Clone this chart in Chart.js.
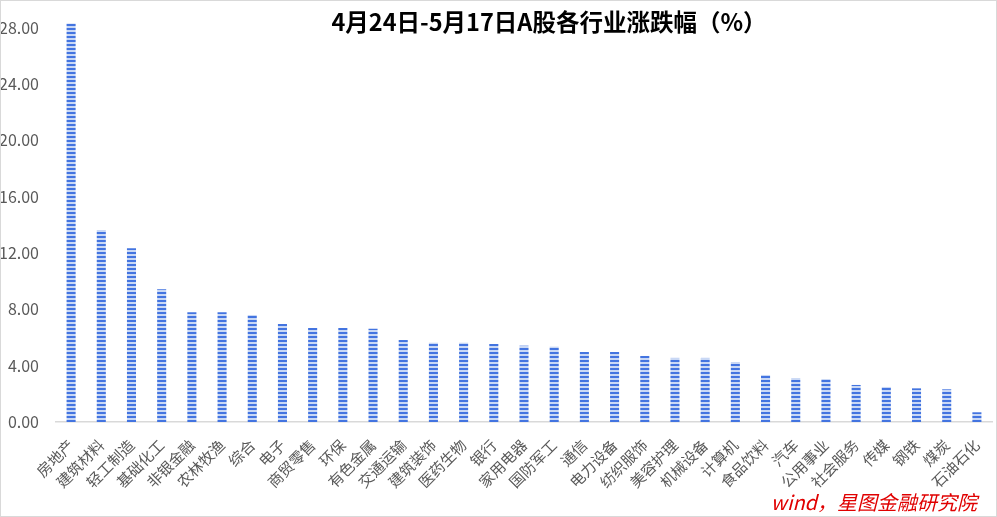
<!DOCTYPE html>
<html>
<head>
<meta charset="utf-8">
<script src="https://cdn.jsdelivr.net/npm/chart.js@4"></script>
<style>
  body { margin: 0; background: #fff; }
  #wrap { position: relative; width: 997px; height: 517px; }
  #frame { position: absolute; left: 0; top: 0; width: 997px; height: 517px; box-sizing: border-box; border: 1px solid #d9d9d9; pointer-events: none; }
  #title { position: absolute; left: 549px; top: 4px; transform: translateX(-50%); white-space: nowrap;
    font: bold 23.5px "Noto Sans CJK SC", sans-serif; color: #000; }
  #source { position: absolute; right: 20px; top: 487px; white-space: nowrap;
    font: italic 20px "Noto Sans CJK SC", sans-serif; color: #e00000; }
</style>
</head>
<body>
<div id="wrap">
  <canvas id="myChart" width="997" height="517"></canvas>
  <div id="title">4月24日-5月17日A股各行业涨跌幅（%）</div>
  <div id="source">wind，星图金融研究院</div>
  <div id="frame"></div>
</div>
<script>
'use strict'

const industries = ['房地产', '建筑材料', '轻工制造', '基础化工', '非银金融', '农林牧渔', '综合', '电子',
  '商贸零售', '环保', '有色金属', '交通运输', '建筑装饰', '医药生物', '银行', '家用电器', '国防军工',
  '通信', '电力设备', '纺织服饰', '美容护理', '机械设备', '计算机', '食品饮料', '汽车', '公用事业',
  '社会服务', '传媒', '钢铁', '煤炭', '石油石化'];
const changes = [28.30, 13.64, 12.34, 9.42, 7.79, 7.79, 7.60, 6.96,
  6.68, 6.68, 6.62, 5.82, 5.63, 5.63, 5.54, 5.42, 5.35,
  4.97, 4.97, 4.69, 4.55, 4.55, 4.26, 3.34, 3.12, 3.05,
  2.63, 2.49, 2.39, 2.32, 0.69];
const yTicks = [0, 4, 8, 12, 16, 20, 24, 28];

// striped fill like the original bars
function stripes() {
  const c = document.createElement('canvas');
  c.width = 4; c.height = 4;
  const g = c.getContext('2d');
  g.fillStyle = '#c9d8f5';
  g.fillRect(0, 0, 4, 4);
  g.fillStyle = '#4374e0';
  g.fillRect(0, 0, 4, 2);
  return g.createPattern(c, 'repeat');
}

function createChart() {
  const ctx = document.getElementById('myChart').getContext('2d');
  new Chart(ctx, {
    type: 'bar',
    data: {
      labels: industries,
      datasets: [{
        data: changes,
        backgroundColor: stripes(),
        barPercentage: 0.3,
        categoryPercentage: 1,
      }],
    },
    options: {
      responsive: false,
      animation: false,
      layout: { padding: { left: 0, right: 5, top: 22, bottom: 0 } },
      plugins: { legend: { display: false }, tooltip: { enabled: false } },
      scales: {
        x: {
          grid: { display: false },
          border: { color: '#d9d9d9', width: 1.5 },
          ticks: {
            color: '#595959',
            font: { family: 'Noto Sans CJK SC', size: 15 },
            minRotation: 45, maxRotation: 45,
            autoSkip: false,
            padding: 6,
          },
          afterFit: (s) => { s.height = 95; },
        },
        y: {
          min: 0, max: 28.4,
          grid: { display: false },
          border: { display: false },
          afterBuildTicks: (s) => { s.ticks = yTicks.map(v => ({ value: v })); },
          ticks: {
            color: '#595959',
            font: { family: 'Noto Sans CJK SC', size: 16 },
            padding: 9,
            callback: (v) => Number(v).toFixed(2),
          },
          afterFit: (s) => { s.width = 56; },
        },
      },
    },
  });
}

createChart();
</script>
</body>
</html>
